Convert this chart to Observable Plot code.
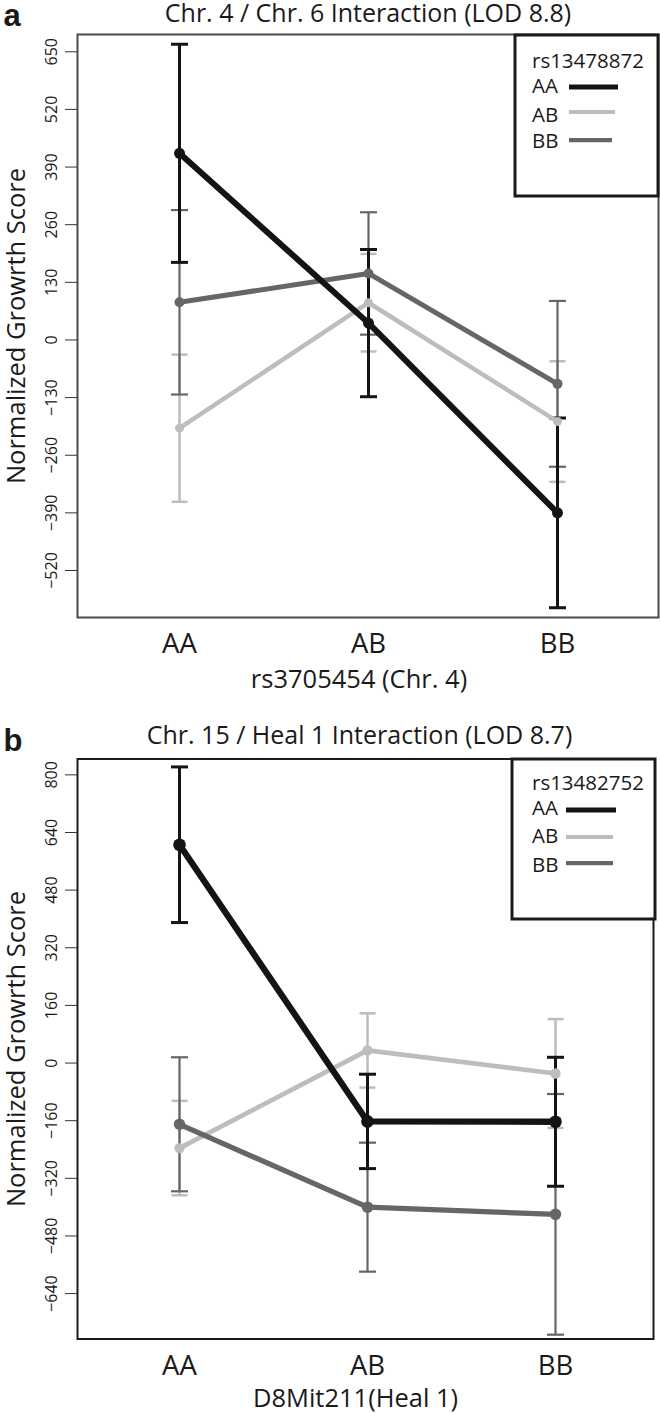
<!DOCTYPE html>
<html><head><meta charset="utf-8">
<script src="https://cdn.jsdelivr.net/npm/d3@7"></script>
<script src="https://cdn.jsdelivr.net/npm/@observablehq/plot@0.6"></script>
<style>
body{margin:0;background:#fff;}
#chart{width:660px;}
#chart svg{display:block;}
</style></head><body><div id="chart"></div>
<script>
// ---------- data ----------
const genotypes = ["AA", "AB", "BB"];
const seriesNames = ["AA", "AB", "BB"];
const yAxisLabel = "Normalized Growrth Score";

// Panel a
const aTitle = "Chr. 4 / Chr. 6 Interaction (LOD 8.8)";
const aXLabel = "rs3705454 (Chr. 4)";
const aLegendTitle = "rs13478872";
const aMeanAA = [421, 38, -390];
const aErrAA = [246, 166, 214];
const aMeanAB = [-199, 84, -184];
const aErrAB = [166, 110, 136];
const aMeanBB = [85, 150, -99];
const aErrBB = [208, 138, 187];
const aTicks = [-520, -390, -260, -130, 0, 130, 260, 390, 520, 650];

// Panel b
const bTitle = "Chr. 15 / Heal 1 Interaction (LOD 8.7)";
const bXLabel = "D8Mit211(Heal 1)";
const bLegendTitle = "rs13482752";
const bMeanAA = [606, -162, -163];
const bErrAA = [216, 131, 179];
const bMeanAB = [-236, 35, -29];
const bErrAB = [131, 103, 151];
const bMeanBB = [-170, -400, -420];
const bErrBB = [186, 179, 334];
const bTicks = [-640, -480, -320, -160, 0, 160, 320, 480, 640, 800];

// ---------- styles ----------
const FONT = "'Open Sans', sans-serif";
const style = {
  AA: {color: "#141414", line: 6, bar: 3, cap: 8.5, r: 5.5},
  AB: {color: "#bdbdbd", line: 4.5, bar: 2.5, cap: 8, r: 4.5},
  BB: {color: "#666666", line: 5, bar: 2.2, cap: 8.5, r: 5}
};
const drawOrder = ["AB", "BB", "AA"];
// horizontal cap symbol: half-width equals the dot radius
const capSymbol = {draw(ctx, size) { const w = Math.sqrt(size / Math.PI); ctx.moveTo(-w, 0); ctx.lineTo(w, 0); }};

function panel(cfg) {
  const rows = [];
  seriesNames.forEach((s, si) => genotypes.forEach((g, gi) => {
    const m = cfg.means[si][gi], e = cfg.errs[si][gi];
    rows.push({series: s, geno: g, mean: m, lo: m - e, hi: m + e});
  }));
  const marks = [Plot.frame({stroke: cfg.frameColor, strokeWidth: 2})];
  for (const s of drawOrder) {
    const d = rows.filter(r => r.series === s), st = style[s];
    marks.push(Plot.ruleX(d, {x: "geno", y1: "lo", y2: "hi", stroke: st.color, strokeWidth: st.bar}));
    marks.push(Plot.dot(d, {x: "geno", y: "lo", symbol: capSymbol, r: st.cap, fill: "none", stroke: st.color, strokeWidth: st.bar}));
    marks.push(Plot.dot(d, {x: "geno", y: "hi", symbol: capSymbol, r: st.cap, fill: "none", stroke: st.color, strokeWidth: st.bar}));
  }
  for (const s of drawOrder) {
    const d = rows.filter(r => r.series === s), st = style[s];
    marks.push(Plot.line(d, {x: "geno", y: "mean", stroke: st.color, strokeWidth: st.line * cfg.lineScale}));
  }
  for (const s of drawOrder) {
    const d = rows.filter(r => r.series === s), st = style[s];
    marks.push(Plot.dot(d, {x: "geno", y: "mean", fill: st.color, r: st.r * cfg.dotScale}));
  }
  marks.push(
    Plot.axisY(cfg.ticks, {tickSize: 12, tickPadding: 9, tickRotate: -90, fontSize: 16, stroke: "#333", label: null}),
    Plot.axisX({tickSize: 0, tickPadding: 16, fontSize: 27.5, label: null}),
    Plot.text([cfg.title], {text: d => d, frameAnchor: "top", dx: cfg.titleDx, dy: cfg.titleDy, lineAnchor: "bottom", textAnchor: "middle", fontSize: 25}),
    Plot.text([cfg.xLabel], {text: d => d, frameAnchor: "bottom", dx: cfg.xLabelDx, dy: cfg.xLabelDy, lineAnchor: "bottom", textAnchor: "middle", fontSize: 25.5}),
    Plot.text([yAxisLabel], {text: d => d, frameAnchor: "left", dx: -53, rotate: -90, lineAnchor: "bottom", textAnchor: "middle", fontSize: 25.5}),
    Plot.text([cfg.tag], {text: d => d, frameAnchor: "top-left", dx: -74, dy: cfg.tagDy, lineAnchor: "bottom", textAnchor: "start", fontSize: 31, fontWeight: "bold", fontFamily: "'Liberation Sans', Arial, sans-serif"})
  );
  const svg = Plot.plot({
    width: 660,
    height: cfg.height,
    marginTop: cfg.mt, marginBottom: cfg.mb, marginLeft: 77, marginRight: cfg.mr,
    style: {fontFamily: FONT, fontSize: "16px", color: "#1a1a1a", background: "#fff", overflow: "visible"},
    x: {type: "point", domain: genotypes, padding: 0.53, align: cfg.align},
    y: {domain: cfg.yDomain},
    marks
  });
  // legend box in the top-right corner of the frame
  const L = cfg.legend;
  const g = d3.select(svg).append("g").attr("font-family", FONT).attr("font-size", 20.5)
    .attr("fill", "#1a1a1a").attr("text-anchor", "start");
  g.append("rect").attr("x", L.x).attr("y", L.y).attr("width", L.w).attr("height", L.h)
    .attr("fill", "#fff").attr("stroke", "#1a1a1a").attr("stroke-width", 3);
  g.append("text").attr("x", L.tx).attr("y", L.titleY).text(cfg.legendTitle);
  seriesNames.forEach((s, i) => {
    g.append("text").attr("x", L.tx).attr("y", L.rowY[i]).text(s);
    g.append("line").attr("x1", L.lx).attr("x2", L.lx2[i]).attr("y1", L.lineY[i]).attr("y2", L.lineY[i])
      .attr("stroke", style[s].color).attr("stroke-width", style[s].line * 0.85);
  });
  return svg;
}

const chart = document.getElementById("chart");
chart.append(panel({
  title: aTitle, xLabel: aXLabel, legendTitle: aLegendTitle, tag: "a",
  means: [aMeanAA, aMeanAB, aMeanBB], errs: [aErrAA, aErrAB, aErrBB], ticks: aTicks,
  height: 705, mt: 34, mb: 88, mr: 2, align: 0.5, yDomain: [-626, 689],
  frameColor: "#4a4a4a", lineScale: 1, dotScale: 1,
  titleDx: 0, titleDy: -12.5, xLabelDx: -9, xLabelDy: 70, tagDy: -9,
  legend: {x: 515, y: 35, w: 143, h: 161, tx: 532, titleY: 68, rowY: [93, 122, 148], lineY: [87, 112, 140], lx: 569, lx2: [618, 615, 612]}
}));
chart.append(panel({
  title: bTitle, xLabel: bXLabel, legendTitle: bLegendTitle, tag: "b",
  means: [bMeanAA, bMeanAB, bMeanBB], errs: [bErrAA, bErrAB, bErrBB], ticks: bTicks,
  height: 708, mt: 53.5, mb: 74.5, mr: 7, align: 0.51, yDomain: [-766, 844],
  frameColor: "#1a1a1a", lineScale: 1.05, dotScale: 1.15,
  titleDx: -6, titleDy: -15.5, xLabelDx: -10, xLabelDy: 67.5, tagDy: -8.5,
  legend: {x: 512, y: 54, w: 143, h: 160, tx: 532, titleY: 85, rowY: [110, 138, 167], lineY: [105, 132, 158], lx: 566, lx2: [616, 613, 613]}
}));
</script></body></html>
